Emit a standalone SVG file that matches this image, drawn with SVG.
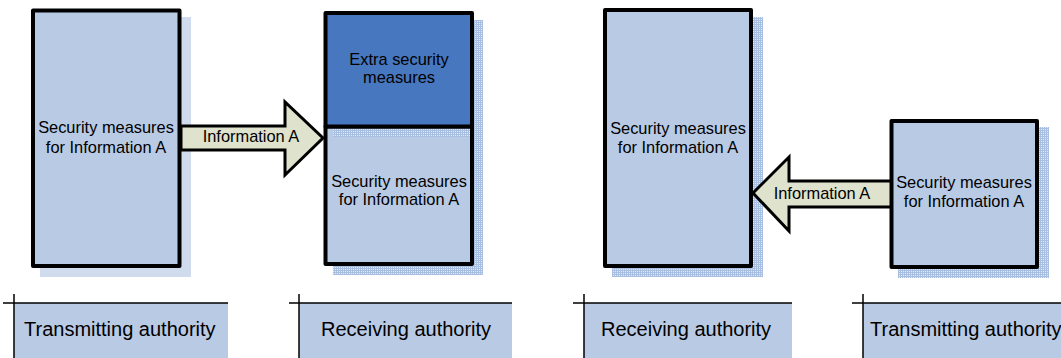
<svg xmlns="http://www.w3.org/2000/svg" width="1061" height="358" viewBox="0 0 1061 358">
  <style>
    .box { fill: #b9cae4; stroke: #000; stroke-width: 4; stroke-linejoin: round; }
    .edge { fill: none; stroke: #000; stroke-width: 4; stroke-linejoin: round; }
    .extra { fill: #4777bf; stroke: #000; stroke-width: 4; stroke-linejoin: round; }
    .arrow { fill: #dfe2cc; stroke: #000; stroke-width: 3; stroke-linejoin: miter; }
    .lbl { font-family: "Liberation Sans", Arial, sans-serif; font-size: 16.4px; fill: #000; text-anchor: middle; }
    .band { fill: #b9cae4; }
    .rule { stroke: #000; stroke-width: 1.5; fill: none; }
    .bandtxt { font-family: "Liberation Sans", Arial, sans-serif; font-size: 20px; fill: #000; }
  </style>
  <defs>
    <pattern id="mesh" width="2" height="2" patternUnits="userSpaceOnUse">
      <rect width="2" height="2" fill="#e3eaf6"/>
      <rect width="2" height="1" fill="#a9bfe2"/>
      <rect width="1" height="2" fill="#a9bfe2"/>
    </pattern>
  </defs>

  <!-- Left scene: transmitting authority -->
  <g id="tx-left">
    <rect x="40" y="17" width="151" height="260" fill="#d0dcee"/>
    <rect class="box" x="33" y="10.5" width="146.5" height="255.5"/>
    <text class="lbl" x="106" y="133">Security measures</text>
    <text class="lbl" x="106" y="153">for Information A</text>
  </g>

  <!-- Left scene: receiving authority with extra measures -->
  <g id="rx-left">
    <rect x="333" y="20" width="150" height="255" fill="url(#mesh)"/>
    <rect x="325.5" y="126.5" width="146.5" height="137.5" fill="#b9cae4"/>
    <!-- shadow of the upper block falling on the lower one -->
    <rect x="333" y="129" width="150" height="8" fill="url(#mesh)"/>
    <rect class="edge" x="325.5" y="126.5" width="146.5" height="137.5"/>
    <rect class="extra" x="325.5" y="13" width="146.5" height="113.5"/>
    <text class="lbl" x="399" y="65">Extra security</text>
    <text class="lbl" x="399" y="83">measures</text>
    <text class="lbl" x="399" y="187">Security measures</text>
    <text class="lbl" x="399" y="205">for Information A</text>
  </g>

  <!-- Right scene: receiving authority -->
  <g id="rx-right">
    <rect x="612" y="17" width="151" height="260" fill="url(#mesh)"/>
    <rect class="box" x="605" y="10" width="146" height="256"/>
    <text class="lbl" x="678" y="134">Security measures</text>
    <text class="lbl" x="678" y="153">for Information A</text>
  </g>

  <!-- Right scene: transmitting authority -->
  <g id="tx-right">
    <rect x="898" y="127" width="151" height="151" fill="url(#mesh)"/>
    <rect class="box" x="891.5" y="121" width="145.5" height="146"/>
    <text class="lbl" x="964" y="188">Security measures</text>
    <text class="lbl" x="964" y="207">for Information A</text>
  </g>

  <!-- Information flows -->
  <g id="connectors">
    <g id="flow-left">
      <polygon class="arrow" points="181,126 285,126 285,102 323,138 285,175 285,150 181,150"/>
      <text class="lbl" x="251" y="142">Information A</text>
    </g>
    <g id="flow-right">
      <polygon class="arrow" points="891,181 789,181 789,157 753,193 789,231 789,207 891,207"/>
      <text class="lbl" x="822" y="199">Information A</text>
    </g>
  </g>

  <!-- Authority captions -->
  <g id="cap-1">
    <rect class="band" x="14" y="303" width="214" height="55"/>
    <path class="rule" d="M3,303 H228 M14,294 V358"/>
    <text class="bandtxt" x="24" y="336">Transmitting authority</text>
  </g>
  <g id="cap-2">
    <rect class="band" x="299" y="303" width="213" height="55"/>
    <path class="rule" d="M289,303 H512 M299,294 V358"/>
    <text class="bandtxt" x="321" y="336">Receiving authority</text>
  </g>
  <g id="cap-3">
    <rect class="band" x="584" y="303" width="208" height="55"/>
    <path class="rule" d="M573,303 H792 M584,294 V358"/>
    <text class="bandtxt" x="601" y="336">Receiving authority</text>
  </g>
  <g id="cap-4">
    <rect class="band" x="863" y="303" width="198" height="55"/>
    <path class="rule" d="M852,303 H1061 M863,294 V358"/>
    <text class="bandtxt" x="870" y="336">Transmitting authority</text>
  </g>
</svg>
